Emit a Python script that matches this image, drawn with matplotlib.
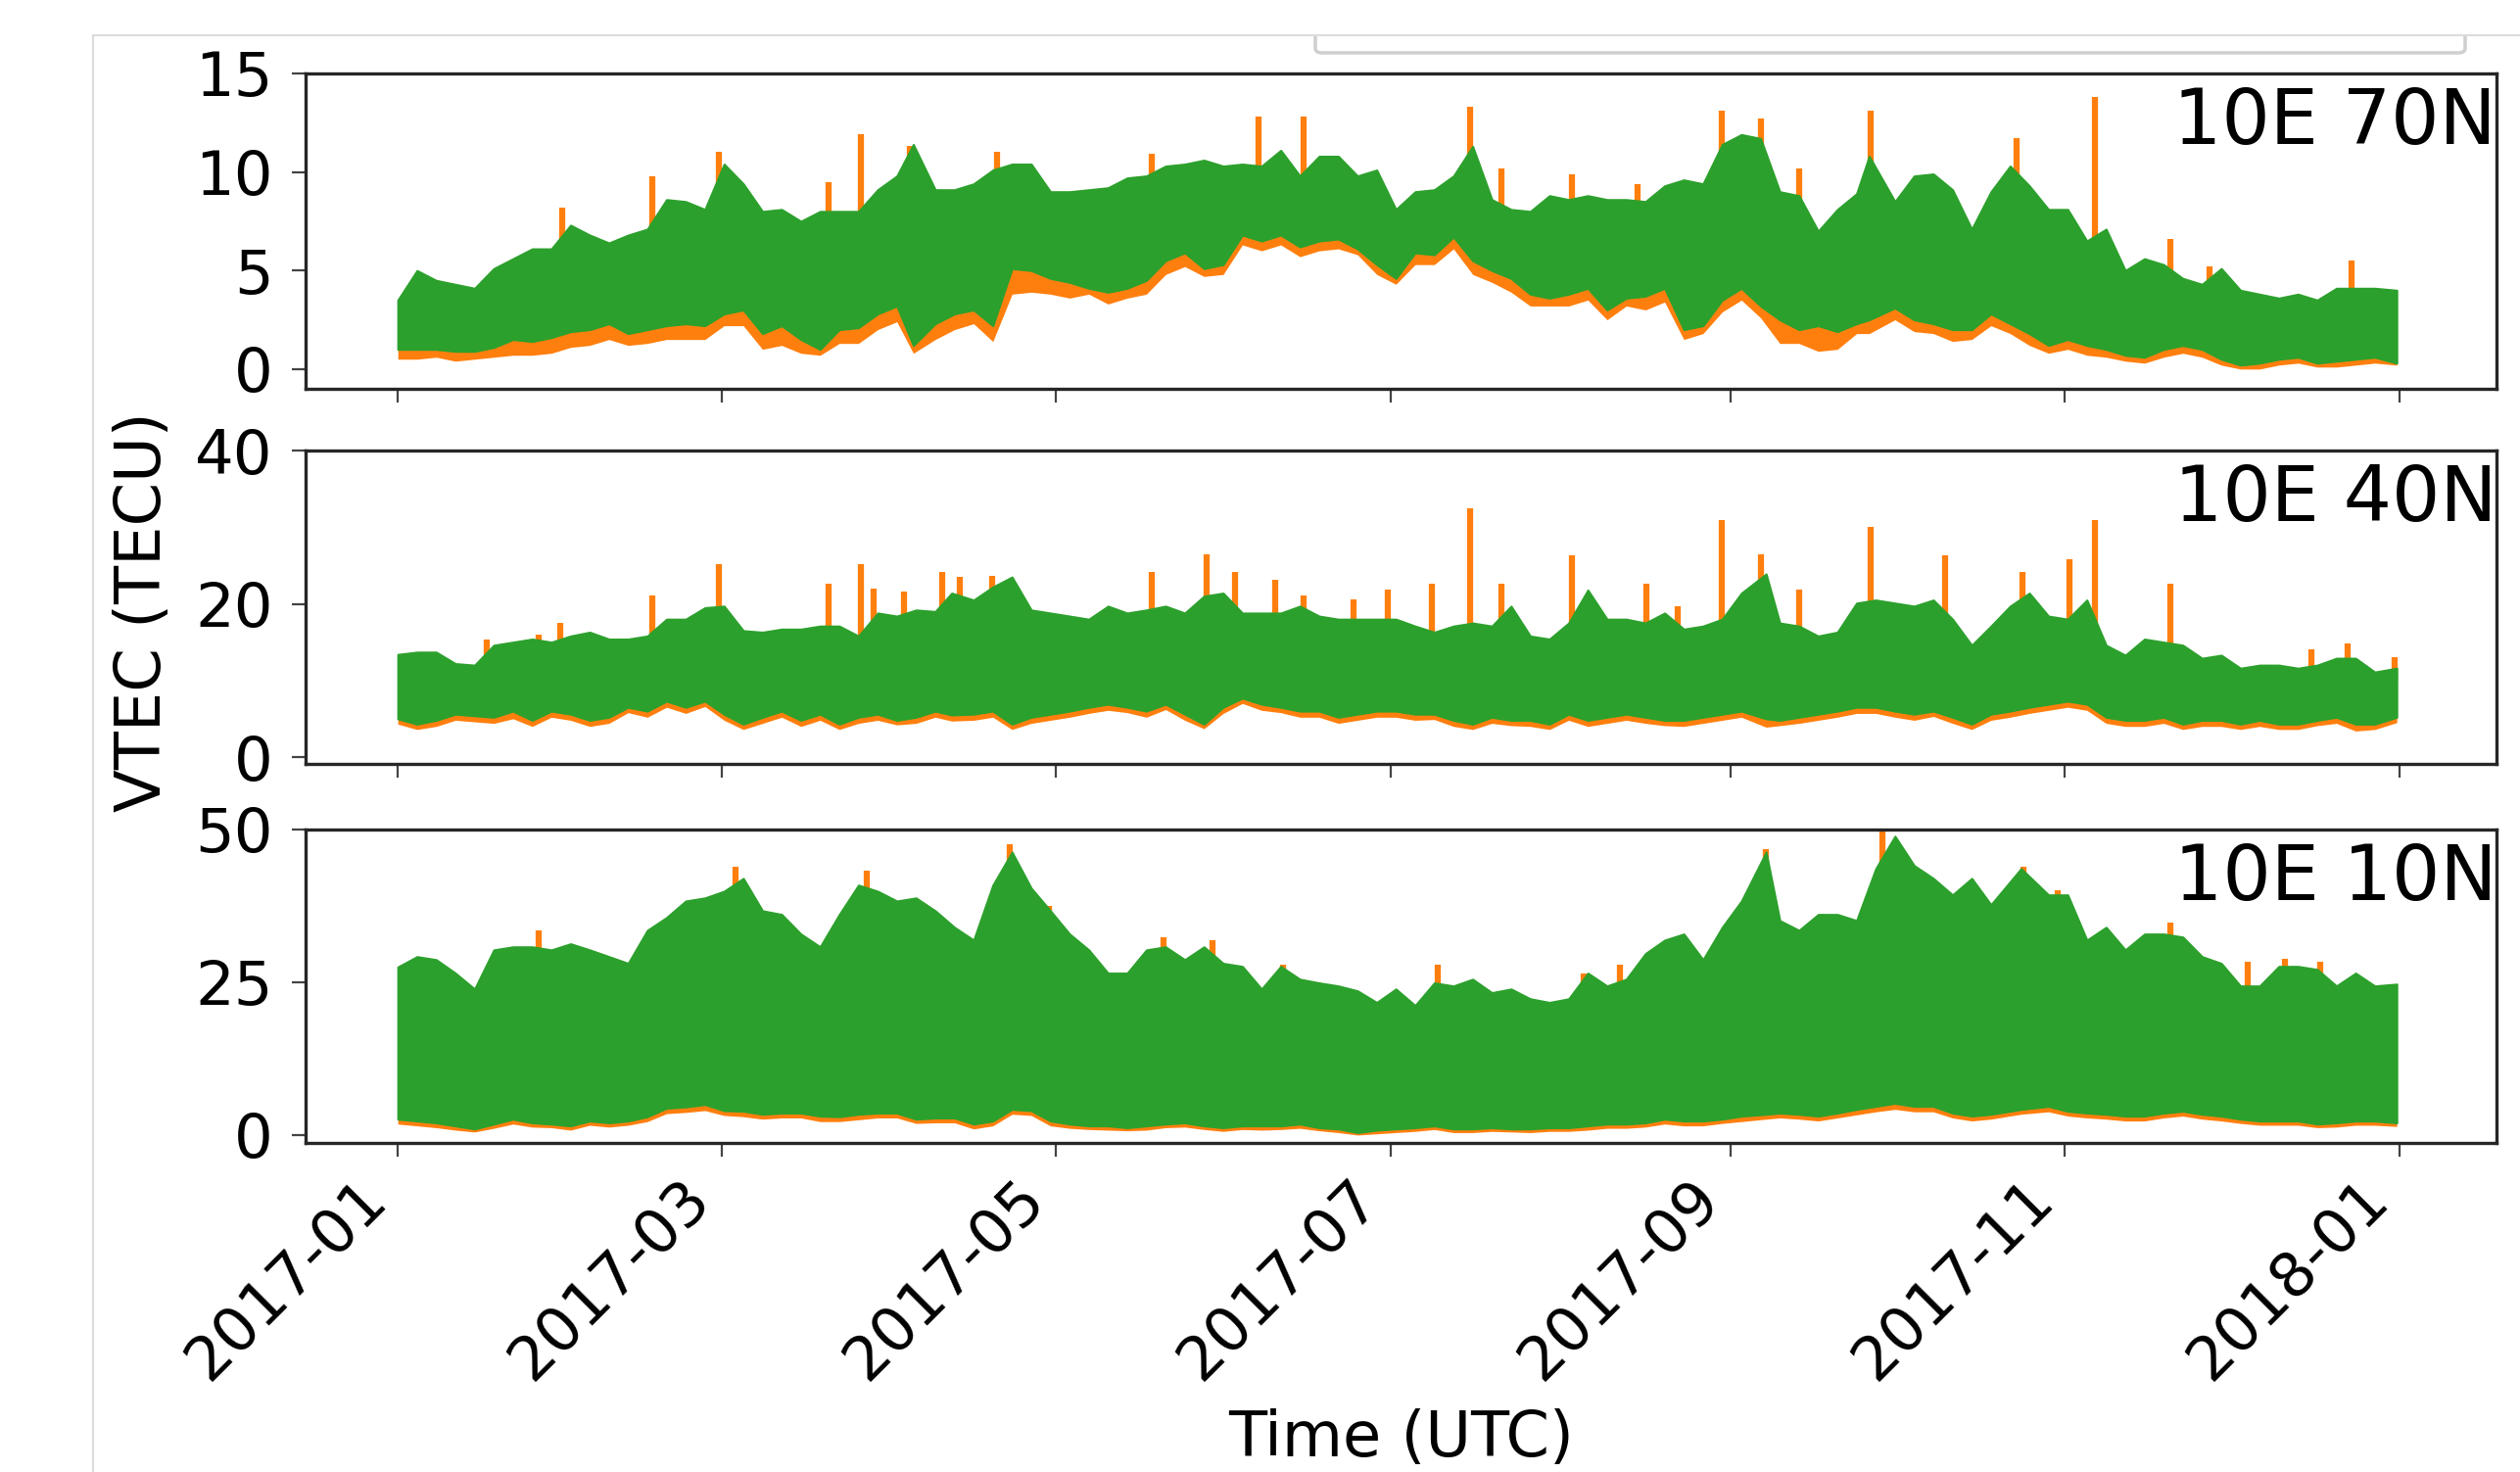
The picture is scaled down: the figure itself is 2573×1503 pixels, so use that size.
import pandas as pd
import matplotlib
matplotlib.use('Agg')
import matplotlib.pyplot as plt
import matplotlib.dates as mdates
from matplotlib.lines import Line2D
from matplotlib.patches import FancyBboxPatch
from matplotlib.transforms import Bbox, TransformedBbox

plt.rcParams['font.family'] = 'DejaVu Sans'

start = pd.Timestamp('2017-01-01')

# envelopes of the hourly VTEC (days since 2017-01-01)
# hi/lo = upper/lower envelope of series 2 (green), lo_c1 = lower envelope of series 1 (orange)
# weekly readings ...
d70 = [0, 7, 14, 21, 28, 35, 42, 49, 56, 59.5, 63, 70, 77, 84, 91, 94, 98, 105, 112, 119,
       126, 133, 140, 147, 154, 161, 168, 175, 182, 189, 196, 203, 210, 217, 224, 231, 238,
       245, 252, 259, 266, 268.3, 273, 280, 287, 294, 301, 308, 315, 322, 329, 336, 343,
       350, 357, 364.5]
hi70 = [3.5, 4.5, 4.1, 5.6, 6.1, 6.8, 6.8, 8.6, 8.1, 10.4, 9.4, 8.1, 8.0, 8.0, 9.8, 11.4,
        9.1, 9.4, 10.4, 9.0, 9.1, 9.7, 10.3, 10.6, 10.4, 11.1, 10.8, 9.8, 8.1, 9.1, 11.3,
        8.1, 8.8, 8.8, 8.6, 9.3, 9.4, 11.9, 9.0, 7.0, 8.9, 10.8, 8.5, 9.9, 7.1, 10.3, 8.1,
        6.5, 5.0, 5.3, 4.3, 4.0, 3.6, 3.5, 4.1, 4.0]
lo70 = [1.0, 1.0, 0.9, 1.5, 1.6, 2.0, 1.8, 2.2, 2.2, 2.8, 3.0, 2.2, 1.0, 2.1, 3.2, 1.2,
        2.3, 3.0, 5.1, 4.6, 4.1, 4.1, 5.5, 5.1, 6.8, 6.8, 6.5, 6.1, 4.6, 5.8, 5.5, 4.6,
        3.6, 4.1, 3.6, 4.1, 2.2, 4.1, 2.5, 2.2, 2.3, 2.5, 3.1, 2.3, 2.0, 2.3, 1.2, 1.2,
        0.7, 1.0, 1.0, 0.2, 0.5, 0.3, 0.5, 0.3]
lo70_c1 = [0.5, 0.6, 0.5, 0.7, 0.8, 1.2, 1.2, 1.5, 1.5, 2.2, 2.2, 1.2, 0.7, 1.3, 2.4, 0.8,
           1.5, 2.3, 3.8, 3.8, 3.8, 3.6, 4.8, 4.7, 6.3, 6.3, 6.0, 5.8, 4.3, 5.3, 4.8, 3.9,
           3.2, 3.5, 3.2, 3.4, 1.8, 3.5, 1.3, 0.9, 1.8, 1.8, 2.5, 1.8, 1.5, 1.8, 0.8, 0.7,
           0.4, 0.6, 0.6, 0.0, 0.2, 0.1, 0.2, 0.2]
# ... and the readings half a week later
dm70 = [3.5, 10.5, 17.5, 24.5, 31.5, 38.5, 45.5, 52.5, 66.5, 73.5, 80.5, 87.5, 101.5,
        108.5, 115.5, 122.5, 129.5, 136.5, 143.5, 150.5, 157.5, 164.5, 171.5, 178.5,
        185.5, 192.5, 199.5, 206.5, 213.5, 220.5, 227.5, 234.5, 241.5, 248.5, 255.5,
        262.5, 276.5, 283.5, 290.5, 297.5, 304.5, 311.5, 318.5, 325.5, 332.5, 339.5,
        346.5, 353.5, 360.5]
hm70 = [5.0, 4.3, 5.1, 6.1, 7.3, 6.4, 7.1, 8.5, 8.0, 7.5, 8.0, 9.1, 9.1, 10.1, 10.4, 9.0,
        9.2, 9.8, 10.4, 10.3, 10.3, 9.8, 10.8, 10.1, 9.0, 9.8, 8.6, 8.0, 8.6, 8.6, 8.5,
        9.6, 11.4, 11.7, 8.8, 8.1, 9.8, 9.1, 9.0, 9.3, 8.1, 7.1, 5.6, 4.6, 5.1, 3.8, 3.8,
        4.1, 4.1]
lm70 = [1.0, 0.9, 1.1, 1.4, 1.9, 2.3, 2.0, 2.3, 1.8, 1.5, 2.0, 2.8, 2.8, 2.2, 5.0, 4.4,
        3.9, 4.5, 5.9, 5.3, 6.5, 6.2, 6.6, 5.3, 5.9, 6.7, 5.0, 3.8, 3.8, 3.0, 3.7, 2.0,
        3.5, 3.2, 2.0, 1.9, 2.5, 2.0, 2.8, 1.8, 1.5, 1.0, 0.6, 1.2, 0.5, 0.3, 0.6, 0.4, 0.6]
lm70_c1 = [0.5, 0.4, 0.6, 0.7, 1.1, 1.5, 1.3, 1.5, 1.0, 0.8, 1.3, 2.0, 2.0, 1.4, 3.9, 3.6,
           3.3, 3.8, 5.2, 4.8, 6.0, 5.7, 6.1, 4.8, 5.3, 6.1, 4.4, 3.2, 3.2, 2.5, 3.0, 1.5,
           2.9, 2.6, 1.3, 1.0, 1.9, 1.4, 2.2, 1.2, 1.0, 0.6, 0.3, 0.8, 0.2, 0.0, 0.3, 0.1,
           0.3]
# orange single-hour spikes: day, top, and a value inside the band where they start
sp70_day = [29.9, 46.4, 58.5, 78.5, 84.4, 93.3, 109.3, 137.5, 157, 165.1, 195.5, 201.2,
            214.1, 226.1, 241.4, 248.5, 255.5, 268.5, 295.2, 309.4, 323.3, 330.3, 356.2]
sp70_top = [8.2, 9.8, 11.0, 9.5, 11.9, 11.3, 11.0, 10.9, 12.8, 12.8, 13.3, 10.2,
            9.9, 9.4, 13.1, 12.7, 10.2, 13.1, 11.7, 13.8, 6.6, 5.2, 5.5]
sp70_base = [4, 5, 5, 5, 5, 6, 7, 8, 8, 8, 8, 6, 6, 6, 6, 6, 5, 6, 6, 4, 3, 2.5, 2.5]

d40 = [0, 7, 14, 21, 28, 35, 42, 49, 56, 63, 70, 77, 84, 91, 98, 101, 105, 112, 119, 126,
       133, 140, 147, 154, 161, 168, 175, 182, 189, 196, 203, 210, 217, 224, 231, 238, 245,
       249.5, 252, 259, 266, 273, 280, 287, 294, 301, 308, 315, 322, 329, 336, 343, 350,
       357, 364.5]
hi40 = [13.4, 13.7, 12.0, 15.0, 15.0, 16.3, 15.4, 18.0, 19.5, 16.5, 16.7, 17.1, 15.8,
        18.4, 19.0, 21.4, 20.5, 23.5, 18.8, 18.0, 18.8, 19.7, 21.0, 18.8, 18.8, 18.4,
        18.0, 18.0, 16.3, 17.5, 19.7, 15.4, 21.8, 18.0, 18.8, 17.1, 21.4, 23.9, 17.5,
        15.8, 20.1, 20.1, 20.5, 14.6, 19.7, 18.4, 20.5, 13.3, 15.0, 12.9, 11.6, 12.0,
        12.0, 12.9, 11.6]
lo40 = [5.0, 4.8, 5.4, 6.0, 6.0, 4.8, 6.5, 7.3, 7.3, 4.3, 6.0, 5.6, 5.2, 4.8, 6.0, 5.5,
        5.6, 4.3, 5.6, 6.5, 6.5, 6.9, 4.3, 7.7, 6.5, 6.0, 5.6, 6.0, 5.6, 4.3, 4.8, 4.3,
        4.8, 5.6, 4.8, 5.2, 6.0, 5.0, 4.8, 5.6, 6.5, 6.0, 6.0, 4.3, 6.0, 6.9, 6.9, 4.8,
        5.2, 4.8, 4.3, 4.3, 4.8, 4.3, 5.2]
lo40_c1 = [4.3, 4.0, 4.6, 5.0, 5.2, 4.0, 5.8, 6.5, 6.6, 3.6, 5.2, 4.8, 4.4, 4.2, 5.2, 4.7,
           4.8, 3.6, 4.8, 5.7, 5.8, 6.2, 3.7, 7.0, 5.8, 5.2, 4.8, 5.2, 4.9, 3.6, 4.1, 3.6,
           4.0, 4.8, 4.1, 4.4, 5.2, 3.9, 4.1, 4.8, 5.7, 5.2, 5.3, 3.6, 5.2, 6.1, 6.1, 4.0,
           4.4, 4.0, 3.6, 3.6, 4.1, 3.4, 4.5]
dm40 = [3.5, 10.5, 17.5, 24.5, 31.5, 38.5, 45.5, 52.5, 59.5, 66.5, 73.5, 80.5, 87.5, 94.5,
        108.5, 115.5, 122.5, 129.5, 136.5, 143.5, 150.5, 157.5, 164.5, 171.5, 178.5,
        185.5, 192.5, 199.5, 206.5, 213.5, 220.5, 227.5, 234.5, 241.5, 255.5, 262.5,
        269.5, 276.5, 283.5, 290.5, 297.5, 304.5, 311.5, 318.5, 325.5, 332.5, 339.5,
        346.5, 353.5, 360.5]
hm40 = [13.7, 12.2, 14.6, 15.4, 15.8, 15.4, 15.8, 18.0, 19.7, 16.3, 16.7, 17.1, 18.8,
        19.2, 22.2, 19.2, 18.4, 19.7, 19.2, 18.8, 21.4, 18.8, 19.7, 18.0, 18.0, 17.1,
        17.1, 17.1, 15.8, 17.5, 18.0, 17.5, 16.7, 18.0, 17.1, 16.3, 20.5, 19.7, 18.0,
        17.1, 21.4, 18.0, 14.6, 15.4, 14.6, 13.3, 12.0, 11.6, 12.9, 11.1]
lm40 = [4.3, 5.6, 5.2, 4.8, 5.6, 5.2, 6.0, 6.5, 5.6, 5.2, 4.8, 4.3, 5.6, 5.2, 6.0, 5.2,
        6.0, 6.9, 6.0, 5.6, 6.5, 6.9, 6.0, 5.2, 6.0, 5.6, 4.8, 5.2, 4.8, 5.6, 5.2, 5.2,
        4.8, 5.6, 5.2, 6.0, 6.5, 5.6, 5.2, 5.6, 6.5, 7.3, 5.2, 4.8, 4.3, 4.8, 4.8, 4.3,
        5.2, 4.3]
lm40_c1 = [3.6, 4.8, 4.4, 4.0, 4.8, 4.4, 5.2, 5.7, 4.8, 4.4, 4.0, 3.6, 4.8, 4.4, 5.2, 4.4,
           5.2, 6.1, 5.2, 4.8, 5.7, 6.1, 5.2, 4.4, 5.2, 4.8, 4.0, 4.4, 4.0, 4.8, 4.4, 4.4,
           4.0, 4.8, 4.4, 5.2, 5.7, 4.8, 4.4, 4.8, 5.7, 6.5, 4.4, 4.0, 3.6, 4.0, 4.0, 3.6,
           4.4, 3.6]
sp40_day = [16.3, 25.6, 29.6, 46.4, 58.5, 78.5, 84.4, 86.7, 92.3, 99.3, 102.5, 108.4,
            137.5, 147.4, 152.6, 160.0, 165.1, 174.2, 180.5, 188.5, 195.5, 201.2, 214.1,
            227.7, 233.4, 241.4, 248.5, 255.5, 268.5, 282.2, 296.3, 304.9, 309.4, 323.3,
            349.0, 355.5, 364.2]
sp40_top = [15.4, 16.0, 17.5, 21.1, 25.2, 22.6, 25.2, 22.0, 21.6, 24.1, 23.5, 23.7,
            24.1, 26.5, 24.1, 23.1, 21.1, 20.6, 21.8, 22.6, 32.5, 22.6, 26.3,
            22.6, 19.7, 30.9, 26.5, 21.8, 30.0, 26.3, 24.1, 25.8, 30.9, 22.6,
            14.1, 14.8, 13.1]

d10 = [0, 7, 14, 21, 28, 35, 42, 49, 56, 63, 70, 77, 84, 91, 98, 105, 112, 119, 126, 133,
       140, 147, 154, 161, 168, 175, 182, 189, 196, 203, 210, 217, 224, 231, 238, 245,
       249.5, 252, 259, 266, 273, 280, 287, 296, 301, 308, 315, 322, 329, 336, 343, 350,
       357, 364.5]
hi10 = [27.5, 28.7, 23.9, 30.8, 30.3, 30.3, 28.1, 35.6, 38.8, 42.0, 36.1, 30.8, 40.9,
        38.3, 36.7, 31.9, 46.3, 36.7, 30.3, 26.5, 30.8, 30.8, 27.6, 27.6, 24.9, 23.6,
        23.9, 24.9, 25.5, 23.9, 21.7, 26.5, 25.5, 31.9, 28.7, 38.3, 46.3, 35.1, 36.1,
        35.1, 48.9, 42.0, 42.0, 43.6, 39.3, 31.9, 30.3, 32.9, 29.2, 24.4, 27.6, 27.1,
        26.5, 24.7]
lo10 = [2.6, 2.0, 1.0, 2.6, 1.8, 2.3, 2.3, 4.4, 5.0, 3.9, 3.6, 3.1, 3.4, 3.6, 2.8, 1.8,
        4.2, 2.3, 1.5, 1.2, 1.8, 1.5, 1.5, 1.5, 1.2, 0.4, 1.0, 1.5, 1.0, 1.0, 1.2, 1.5,
        1.8, 2.6, 2.3, 3.1, 3.4, 3.6, 3.1, 4.2, 5.2, 4.7, 3.1, 4.2, 4.7, 3.6, 3.1, 3.6,
        3.4, 2.6, 2.3, 1.8, 2.3, 2.0]
lo10_c1 = [1.8, 1.2, 0.5, 1.8, 1.2, 1.6, 1.6, 3.5, 4.0, 3.0, 2.8, 2.2, 2.5, 2.8, 2.0, 1.0,
           3.4, 1.5, 0.9, 0.7, 1.2, 0.9, 0.9, 0.9, 0.7, 0.0, 0.4, 0.9, 0.4, 0.5, 0.6, 0.8,
           1.1, 1.8, 1.5, 2.2, 2.6, 2.8, 2.3, 3.3, 4.2, 3.8, 2.3, 3.4, 3.8, 2.8, 2.3, 2.8,
           2.6, 1.9, 1.6, 1.2, 1.6, 1.4]
dm10 = [3.5, 10.5, 17.5, 24.5, 31.5, 38.5, 45.5, 52.5, 59.5, 66.5, 73.5, 80.5, 87.5, 94.5,
        101.5, 108.5, 115.5, 122.5, 129.5, 136.5, 143.5, 150.5, 157.5, 164.5, 171.5,
        178.5, 185.5, 192.5, 199.5, 206.5, 213.5, 220.5, 227.5, 234.5, 241.5, 255.5,
        262.5, 269.5, 276.5, 283.5, 290.5, 304.5, 311.5, 318.5, 325.5, 332.5, 339.5,
        346.5, 353.5, 360.5]
hm10 = [29.2, 26.5, 30.3, 30.8, 31.3, 29.2, 33.5, 38.3, 39.9, 36.7, 32.9, 36.1, 39.9,
        38.8, 34.0, 40.9, 40.4, 32.9, 26.5, 30.3, 28.7, 28.1, 23.9, 25.5, 24.4, 21.7,
        21.2, 24.4, 23.3, 22.3, 22.3, 24.4, 29.7, 32.9, 34.0, 33.5, 36.1, 43.6, 44.1,
        39.3, 37.7, 39.3, 34.0, 32.9, 32.4, 28.1, 24.4, 27.6, 24.4, 24.4]
lm10 = [2.3, 1.5, 1.8, 2.0, 1.5, 2.0, 3.0, 4.6, 4.0, 3.4, 3.6, 3.0, 3.6, 2.6, 2.8, 2.3,
        4.0, 1.8, 1.5, 1.5, 2.0, 1.2, 1.5, 1.8, 1.0, 0.8, 1.2, 1.0, 1.2, 1.0, 1.2, 1.8,
        2.0, 2.3, 2.6, 3.4, 3.6, 4.7, 4.7, 3.6, 3.4, 3.9, 3.4, 3.1, 3.9, 3.1, 2.3, 2.3,
        2.0, 2.3]
lm10_c1 = [1.5, 0.8, 1.1, 1.3, 0.8, 1.3, 2.2, 3.7, 3.2, 2.6, 2.8, 2.2, 2.8, 1.9, 2.0, 1.5,
           3.2, 1.1, 0.8, 0.8, 1.3, 0.6, 0.8, 1.1, 0.4, 0.2, 0.6, 0.4, 0.6, 0.4, 0.6, 1.1,
           1.3, 1.5, 1.9, 2.6, 2.8, 3.8, 3.8, 2.8, 2.6, 3.1, 2.6, 2.3, 3.1, 2.3, 1.6, 1.6,
           1.3, 1.6]
sp10_day = [25.6, 61.5, 85.6, 111.6, 118.8, 139.7, 148.6, 161.5, 189.7, 216.3, 222.9,
            249.5, 270.7, 296.4, 302.6, 323.3, 337.3, 344.2, 350.5]
sp10_top = [33.5, 43.9, 43.3, 47.6, 37.5, 32.4, 31.9, 27.9, 27.9, 26.5, 27.9,
            46.8, 49.7, 43.9, 40.1, 34.8, 28.4, 28.9, 28.4]

names = ['10E 70N', '10E 40N', '10E 10N']
yticks = [[0, 5, 10, 15], [0, 20, 40], [0, 25, 50]]


def to_dates(days):
    return start + pd.to_timedelta(days, unit='D')


def envelope(d, hi, lo, lo_c1, dm, hm, lm, lm_c1):
    # put the weekly and the mid-week readings in one time-ordered table
    df = pd.DataFrame({'day': d + dm, 'hi': hi + hm, 'lo': lo + lm, 'lo_c1': lo_c1 + lm_c1})
    return df.sort_values('day')


fig = plt.figure(figsize=(25.73, 15.03), dpi=100)

# axes boxes (fig fraction)
boxes = [[0.1213, 0.7359, 0.8694, 0.2142],
         [0.1213, 0.4810, 0.8694, 0.2129],
         [0.1213, 0.2236, 0.8694, 0.2129]]
ylims = [(-1, 15), (-0.9, 40), (-1.28, 50)]

data = [(envelope(d70, hi70, lo70, lo70_c1, dm70, hm70, lm70, lm70_c1),
         sp70_day, sp70_top, sp70_base),
        (envelope(d40, hi40, lo40, lo40_c1, dm40, hm40, lm40, lm40_c1),
         sp40_day, sp40_top, 10),
        (envelope(d10, hi10, lo10, lo10_c1, dm10, hm10, lm10, lm10_c1),
         sp10_day, sp10_top, 15)]

axes = []
for i in range(3):
    if i == 0:
        ax = fig.add_axes(boxes[i])
    else:
        ax = fig.add_axes(boxes[i], sharex=axes[0])
    axes.append(ax)
    env, sp_d, sp_t, sp_b = data[i]
    dates = to_dates(env['day'])

    # series 1 (orange) underneath, series 2 (green) on top
    ax.fill_between(dates, env['lo_c1'], env['hi'], color='#ff7f0e', lw=0, zorder=1)
    ax.vlines(to_dates(sp_d), sp_b, sp_t, color='#ff7f0e', lw=4.5, zorder=2)
    ax.fill_between(dates, env['lo'], env['hi'], color='#2ca02c', lw=1.5,
                    edgecolor='#2ca02c', zorder=3)

    ax.set_ylim(ylims[i])
    ax.set_yticks(yticks[i])
    ax.text(1.0, 0.9625, names[i], transform=ax.transAxes, ha='right', va='top',
            fontsize=56, zorder=5)

    for s in ax.spines.values():
        s.set_linewidth(2.4)
        s.set_color('#262626')
        s.set_zorder(6)
    ax.tick_params(axis='both', length=10, width=1.6, color='#444444', labelsize=45)
    ax.tick_params(axis='y', pad=14)
    ax.tick_params(axis='x', pad=9)

axes[0].set_xlim(mdates.date2num(start - pd.Timedelta(days=16.8)),
                 mdates.date2num(start + pd.Timedelta(days=382.7)))
axes[0].xaxis.set_major_locator(mdates.MonthLocator(bymonth=[1, 3, 5, 7, 9, 11]))
axes[0].xaxis.set_major_formatter(mdates.DateFormatter('%Y-%m'))
axes[0].tick_params(labelbottom=False)
axes[1].tick_params(labelbottom=False)
for lab in axes[2].get_xticklabels():
    lab.set_rotation(45)
    lab.set_ha('right')

axes[1].set_ylabel('VTEC (TECU)', fontsize=46)
axes[1].yaxis.set_label_coords(-0.0603, 0.484)
axes[2].set_xlabel('Time (UTC)', fontsize=46)
axes[2].xaxis.set_label_coords(0.5, -0.847)

# screenshot frame and the cut legend box at the top
top_y = 1 - 36 / 1503
fig.add_artist(Line2D([95 / 2573, 95 / 2573], [0, top_y], transform=fig.transFigure,
                      color='#dcdcdc', lw=1.5))
fig.add_artist(Line2D([95 / 2573, 1], [top_y, top_y], transform=fig.transFigure,
                      color='#dcdcdc', lw=1.5))
box = FancyBboxPatch((1343 / 2573, 1 - 54 / 1503), (2517 - 1343) / 2573, 40 / 1503,
                     boxstyle='round,pad=0,rounding_size=0.003', transform=fig.transFigure,
                     fc='white', ec='#cfcfcf', lw=2.5)
box.set_clip_box(TransformedBbox(Bbox([[0, 0], [1, top_y]]), fig.transFigure))
fig.add_artist(box)

plt.savefig('out.png', dpi=100)
